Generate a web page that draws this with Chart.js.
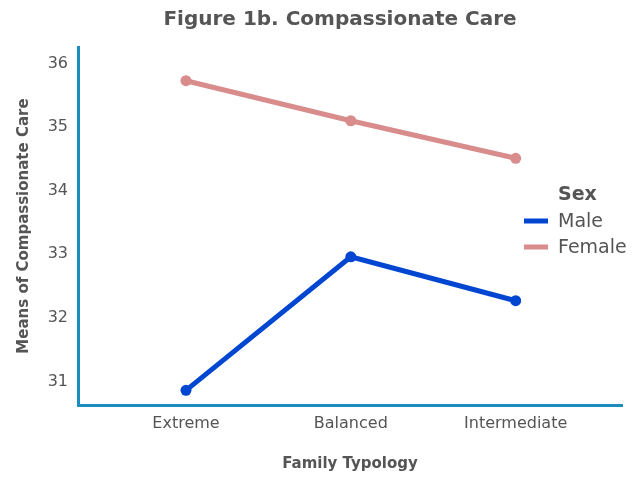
<!DOCTYPE html>
<html>
<head>
<meta charset="utf-8">
<title>Figure 1b. Compassionate Care</title>
<script src="https://cdn.jsdelivr.net/npm/chart.js@4.4.1/dist/chart.umd.min.js"></script>
<style>
  html, body { margin: 0; padding: 0; background: #fff; }
  canvas { display: block; }
</style>
</head>
<body>
<canvas id="line_chart" width="637" height="477"></canvas>
<script>
"use strict";

// data
var categories = ["Extreme", "Balanced", "Intermediate"];
var maleMeans = [30.86, 32.96, 32.27];
var femaleMeans = [35.73, 35.10, 34.51];
var yTicks = [31, 32, 33, 34, 35, 36];

var textGrey = "#555555";
var axisBlue = "#1a8fbf";
var maleBlue = "#0046d1";
var femalePink = "#d88c8c";

// linear x so the category spacing can match the figure
function toPoints(values) {
    return values.map(function(v, i) { return { x: i, y: v }; });
}

// title and legend drawn by hand, positions taken from the figure
var figureText = {
    id: 'figureText',
    afterDraw: function(chart) {
        var ctx = chart.ctx;
        ctx.save();
        ctx.fillStyle = textGrey;
        ctx.textBaseline = 'middle';
        ctx.textAlign = 'center';
        ctx.font = "bold 20px 'DejaVu Sans'";
        ctx.fillText("Figure 1b. Compassionate Care", 340, 20);

        ctx.textAlign = 'left';
        ctx.font = "bold 19px 'DejaVu Sans'";
        ctx.fillText("Sex", 558, 195);
        ctx.font = "19px 'DejaVu Sans'";
        chart.data.datasets.forEach(function(ds, i) {
            var y = 221 + i * 26;
            ctx.fillStyle = ds.borderColor;
            ctx.fillRect(524, y - 2.5, 24, 5);
            ctx.fillStyle = textGrey;
            ctx.fillText(ds.label, 558, y + 1);
        });
        ctx.restore();
    }
};

var lineChart = function() {
    var el = document.getElementById("line_chart").getContext('2d');
    new Chart(el, {
        type: 'line',
        data: {
            datasets: [{
                label: "Male",
                data: toPoints(maleMeans),
                borderColor: maleBlue,
                backgroundColor: maleBlue,
                borderWidth: 5,
                pointRadius: 5.5,
                pointBorderWidth: 0,
                tension: 0
            }, {
                label: "Female",
                data: toPoints(femaleMeans),
                borderColor: femalePink,
                backgroundColor: femalePink,
                borderWidth: 5,
                pointRadius: 5.5,
                pointBorderWidth: 0,
                tension: 0
            }]
        },
        options: {
            responsive: false,
            animation: false,
            layout: { padding: { top: 47, right: 15, left: 0, bottom: 0 } },
            plugins: {
                legend: { display: false },
                title: { display: false },
                tooltip: { enabled: false }
            },
            scales: {
                x: {
                    type: 'linear',
                    min: -0.655,
                    max: 2.645,
                    grid: { display: false, drawTicks: false },
                    border: { display: true, color: axisBlue, width: 3 },
                    afterBuildTicks: function(scale) {
                        scale.ticks = categories.map(function(c, i) { return { value: i }; });
                    },
                    afterFit: function(scale) { scale.height = 72; },
                    ticks: {
                        padding: 9,
                        color: textGrey,
                        font: { family: "'DejaVu Sans'", size: 16 },
                        callback: function(value) { return categories[value]; }
                    },
                    title: {
                        display: true,
                        text: "Family Typology",
                        color: textGrey,
                        font: { family: "'DejaVu Sans'", size: 15, weight: 'bold' },
                        padding: { top: 4, bottom: 4 }
                    }
                },
                y: {
                    min: 30.63,
                    max: 36.26,
                    grid: { display: false, drawTicks: false },
                    border: { display: true, color: axisBlue, width: 3 },
                    afterBuildTicks: function(scale) {
                        scale.ticks = yTicks.map(function(v) { return { value: v }; });
                    },
                    afterFit: function(scale) { scale.width = 78; },
                    ticks: {
                        padding: 10,
                        color: textGrey,
                        font: { family: "'DejaVu Sans'", size: 16 }
                    },
                    title: {
                        display: true,
                        text: "Means of Compassionate Care",
                        color: textGrey,
                        font: { family: "'DejaVu Sans'", size: 15, weight: 'bold' },
                        padding: { top: 15, bottom: 4 }
                    }
                }
            }
        },
        plugins: [figureText]
    });
};

lineChart();
</script>
</body>
</html>
